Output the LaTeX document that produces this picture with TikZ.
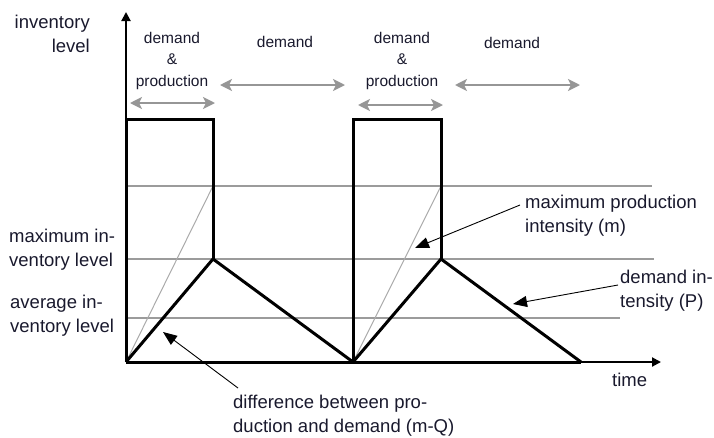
\documentclass[tikz,border=0pt]{standalone}
\usepackage{fontspec}
\setmainfont{Liberation Sans}
\usetikzlibrary{arrows.meta}
\definecolor{txt}{RGB}{25,25,45}
\definecolor{gline}{RGB}{155,155,155}
\definecolor{gdiag}{RGB}{170,170,170}
\definecolor{garrow}{RGB}{150,150,150}
\tikzset{
  lbl/.style={inner sep=0pt, text=txt, font=\fontsize{18.5}{24}\selectfont},
  small/.style={inner sep=0pt, text=txt, font=\fontsize{15.5}{21.5}\selectfont},
  thickblk/.style={line width=3pt, line join=miter, black},
  grid/.style={line width=1.5pt, gline},
  diag/.style={line width=1pt, gdiag},
  span/.style={line width=2pt, garrow, {Stealth[length=12pt,width=12pt,inset=3pt]}-{Stealth[length=12pt,width=12pt,inset=3pt]}},
  pointer/.style={line width=0.9pt, black, -{Triangle[length=14pt,width=11pt]}},
  axis/.style={line width=2pt, black, -{Triangle[length=9pt,width=9pt]}}
}
\begin{document}
\begin{tikzpicture}[x=1pt,y=-1pt]
\useasboundingbox (0,0) rectangle (714,437);
% key points
\coordinate (O1) at (126,362);
\coordinate (T1) at (126,119);
\coordinate (R1) at (213,119);
\coordinate (P1) at (213,259);
\coordinate (O2) at (353,362);
\coordinate (T2) at (353,119);
\coordinate (R2) at (441,119);
\coordinate (P2) at (441,259);
\coordinate (E2) at (581,362);
\coordinate (M1) at (213,186);
\coordinate (M2) at (441,186);
\coordinate (Ytip) at (126,12);
\coordinate (Xtip) at (661,362);
% grey horizontal levels
\coordinate (g1a) at (126,186); \coordinate (g1b) at (652,186);
\coordinate (g2a) at (126,259); \coordinate (g2b) at (654,259);
\coordinate (g3a) at (126,318); \coordinate (g3b) at (620,318);
\draw[grid] (g1a) -- (g1b);
\draw[grid] (g2a) -- (g2b);
\draw[grid] (g3a) -- (g3b);
% production intensity diagonals
\draw[diag] (O1) -- (M1);
\draw[diag] (O2) -- (M2);
% axes
\draw[axis] (O1) -- (Ytip);
\draw[axis] (O1) -- (Xtip);
% inventory curve
\draw[thickblk] (O1) -- (T1) -- (R1) -- (P1);
\draw[thickblk] (O1) -- (P1) -- (O2);
\draw[thickblk] (O2) -- (T2) -- (R2) -- (P2);
\draw[thickblk] (O2) -- (P2) -- (E2);
\draw[thickblk] (O1) -- (E2);
% period spans
\coordinate (s1a) at (130,103); \coordinate (s1b) at (215,103);
\coordinate (s2a) at (220,85);  \coordinate (s2b) at (345,85);
\coordinate (s3a) at (358,105); \coordinate (s3b) at (443,105);
\coordinate (s4a) at (455,85);  \coordinate (s4b) at (580,85);
\draw[span] (s1a) -- (s1b);
\draw[span] (s2a) -- (s2b);
\draw[span] (s3a) -- (s3b);
\draw[span] (s4a) -- (s4b);
% span labels
\node[small, align=center, anchor=north] (dp1) at (172,32) {demand\\\&\\production};
\node[small, anchor=base] (d1) at (285,47) {demand};
\node[small, align=center, anchor=north] (dp2) at (402,32) {demand\\\&\\production};
\node[small, anchor=base] (d2) at (512,48) {demand};
% axis labels
\node[lbl, align=right, anchor=north east] (inv) at (90,15) {inventory\\level};
\node[lbl, anchor=base west] (time) at (612,386) {time};
% level labels
\node[lbl, align=left, anchor=north west] (maxinv) at (9,229) {maximum in-\\ventory level};
\node[lbl, align=left, anchor=north west] (avginv) at (10,295) {average in-\\ventory level};
% explanatory labels
\node[lbl, align=left, anchor=north west] (mpi) at (525,195) {maximum production\\intensity (m)};
\node[lbl, align=left, anchor=north west] (dint) at (620,270) {demand in-\\tensity (P)};
\node[lbl, align=left, anchor=north west] (diff) at (233,395) {difference between pro-\\duction and demand (m-Q)};
% pointers
\coordinate (hm) at (415,248);
\coordinate (hd) at (513,304);
\coordinate (hf) at (163,332);
\draw[pointer] ([xshift=-5pt,yshift=-10pt]mpi.north west) -- (hm);
\draw[pointer] ([xshift=-2pt,yshift=-15pt]dint.north west) -- (hd);
\draw[pointer] ([xshift=5pt,yshift=7pt]diff.north west) -- (hf);
\end{tikzpicture}
\end{document}
